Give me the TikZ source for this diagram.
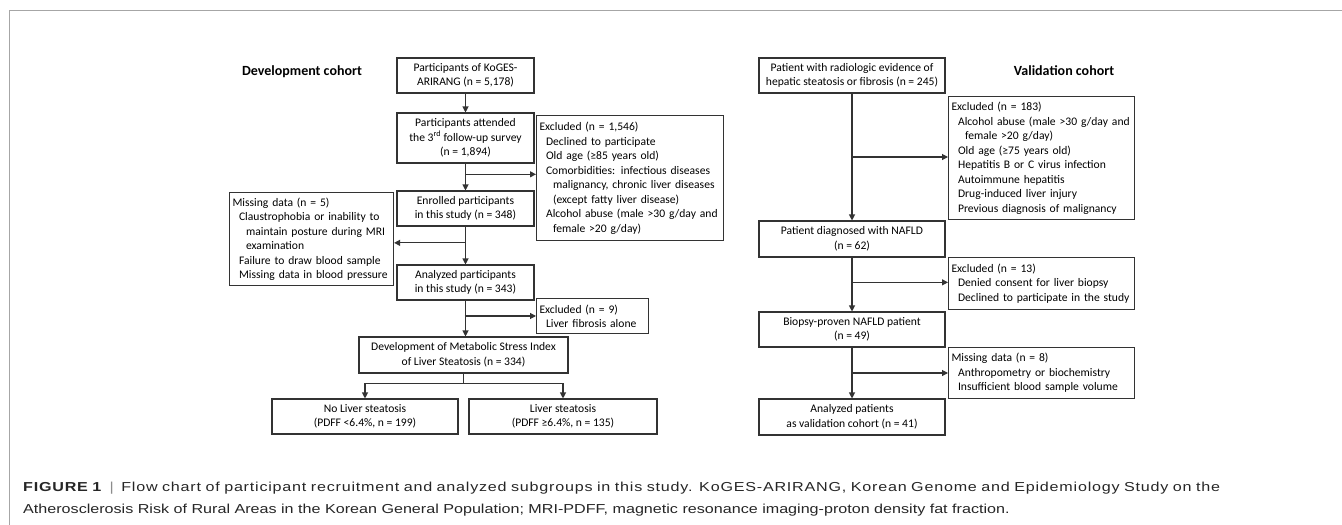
\documentclass[tikz,border=0pt]{standalone}
\usepackage{fontspec}
\setmainfont{Carlito}
\newfontfamily\capfont[FakeStretch=1.24]{Liberation Sans}
\usetikzlibrary{arrows.meta, calc}
\usepackage{xcolor}

% indented lines inside the exclusion boxes
\newcommand{\ia}[1]{\hspace*{6.5pt}\mbox{#1}}
\newcommand{\ib}[1]{\hspace*{13.5pt}\mbox{#1}}

\begin{document}
\begin{tikzpicture}[x=1pt, y=-1pt,
    box/.style={draw=black!80, line width=1.1pt, align=center, inner sep=0pt, font=\fontsize{11.6}{14.5}\selectfont},
    lbox/.style={box, align=left, anchor=north west, inner xsep=3pt},
    head/.style={font=\bfseries\fontsize{14}{16}\selectfont},
    arr/.style={-{Triangle[length=6pt, width=6pt]}, line width=1.1pt, black!80},
    ln/.style={line width=1.1pt, black!80},
    frame/.style={line width=1.4pt, black!35}]

        \useasboundingbox (0,0) rectangle (1342,525);

        % Draw the figure frame
        \draw[frame] (9.5,525) -- (9.5,10.5) -- (1342,10.5);

        % Define boxes of the development cohort
        \node[head] (devhead) at (302,72) {Development cohort};
        \node[box, minimum width=137pt, minimum height=35pt] (dev1) at (465.5,75.5) {Participants of KoGES-\\ARIRANG (n = 5,178)};
        \node[box, minimum width=137pt, minimum height=50pt] (dev2) at (465.5,138) {Participants attended\\the 3\textsuperscript{rd} follow-up survey\\(n = 1,894)};
        \node[box, minimum width=137pt, minimum height=35pt] (dev3) at (465.5,208.5) {Enrolled participants\\in this study (n = 348)};
        \node[box, minimum width=137pt, minimum height=35pt] (dev4) at (465.5,282.5) {Analyzed participants\\in this study (n = 343)};
        \node[box, minimum width=209pt, minimum height=36pt] (dev5) at (463.5,355) {Development of Metabolic Stress Index\\of Liver Steatosis (n = 334)};
        \node[box, minimum width=186pt, minimum height=35pt] (nost) at (365,416.5) {No Liver steatosis\\(PDFF <6.4\%, n = 199)};
        \node[box, minimum width=188pt, minimum height=35pt] (st) at (563,416.5) {Liver steatosis\\(PDFF ≥6.4\%, n = 135)};

        % Define exclusion boxes of the development cohort
        \node[lbox, text width=181pt, minimum height=125pt] (exc1) at (536,115) {Excluded (n = 1,546)\\\ia{Declined to participate}\\\ia{Old age (≥85 years old)}\\\ia{Comorbidities: infectious diseases}\\\ib{malignancy, chronic liver diseases}\\\ib{(except fatty liver disease)}\\\ia{Alcohol abuse (male >30 g/day and}\\\ib{female >20 g/day)}};
        \node[lbox, text width=158pt, minimum height=93pt] (miss1) at (229,192) {Missing data (n = 5)\\\ia{Claustrophobia or inability to}\\\ib{maintain posture during MRI}\\\ib{examination}\\\ia{Failure to draw blood sample}\\\ia{Missing data in blood pressure}};
        \node[lbox, text width=106pt, minimum height=35pt] (exc2) at (536,298) {Excluded (n = 9)\\\ia{Liver fibrosis alone}};

        % Define boxes of the validation cohort
        \node[head] (valhead) at (1064,71) {Validation cohort};
        \node[box, minimum width=186pt, minimum height=35pt] (val1) at (852,75.5) {Patient with radiologic evidence of\\hepatic steatosis or fibrosis (n = 245)};
        \node[box, minimum width=186pt, minimum height=36pt] (val2) at (852,239) {Patient diagnosed with NAFLD\\(n = 62)};
        \node[box, minimum width=186pt, minimum height=35pt] (val3) at (852,329.5) {Biopsy-proven NAFLD patient\\(n = 49)};
        \node[box, minimum width=186pt, minimum height=36pt] (val4) at (852,417) {Analyzed patients\\as validation cohort (n = 41)};

        % Define exclusion boxes of the validation cohort
        \node[lbox, text width=180pt, minimum height=123pt] (exc3) at (948,96) {Excluded (n = 183)\\\ia{Alcohol abuse (male >30 g/day and}\\\ib{female >20 g/day)}\\\ia{Old age (≥75 years old)}\\\ia{Hepatitis B or C virus infection}\\\ia{Autoimmune hepatitis}\\\ia{Drug-induced liver injury}\\\ia{Previous diagnosis of malignancy}};
        \node[lbox, text width=180pt, minimum height=52pt] (exc4) at (948,257) {Excluded (n = 13)\\\ia{Denied consent for liver biopsy}\\\ia{Declined to participate in the study}};
        \node[lbox, text width=180pt, minimum height=51pt] (miss2) at (948,347) {Missing data (n = 8)\\\ia{Anthropometry or biochemistry}\\\ia{Insufficient blood sample volume}};

        % Define branch points
        \coordinate (b1) at ($(dev2.south)!0.4!(dev3.north)$);
        \coordinate (b2) at ($(dev3.south)!0.43!(dev4.north)$);
        \coordinate (b3) at ($(dev4.south)!0.43!(dev5.north)$);
        \coordinate (sp) at ($(dev5.south)+(0,10)$);
        \coordinate (b4) at ($(val1.south)!0.5!(val2.north)$);
        \coordinate (b5) at ($(val2.south)!0.46!(val3.north)$);
        \coordinate (b6) at ($(val3.south)!0.5!(val4.north)$);

        % Draw arrows of the development cohort
        \draw[arr] (dev1.south) -- (dev2.north);
        \draw[arr] (dev2.south) -- (dev3.north);
        \draw[arr] (dev3.south) -- (dev4.north);
        \draw[arr] (dev4.south) -- (dev4.south |- dev5.north);
        \draw[arr] (b1) -- (b1 -| exc1.west);
        \draw[arr] (b2) -- (b2 -| miss1.east);
        \draw[arr] (b3) -- (b3 -| exc2.west);
        \draw[ln] (dev5.south) -- (sp);
        \draw[arr] (sp) -| (nost.north);
        \draw[arr] (sp) -| (st.north);

        % Draw arrows of the validation cohort
        \draw[arr] (val1.south) -- (val2.north);
        \draw[arr] (val2.south) -- (val3.north);
        \draw[arr] (val3.south) -- (val4.north);
        \draw[arr] (b4) -- (b4 -| exc3.west);
        \draw[arr] (b5) -- (b5 -| exc4.west);
        \draw[arr] (b6) -- (b6 -| miss2.west);

        % Caption
        \node[anchor=north west, align=justify, text width=1197pt, inner sep=0pt, text=black!85, font=\capfont\fontsize{13}{22}\selectfont] (cap) at (23,482) {{\addfontfeatures{LetterSpace=6}\textbf{FIGURE 1}\hspace{3pt} {\color{black!45}|}\hspace{3pt} Flow chart of participant recruitment and analyzed subgroups in this study. KoGES-ARIRANG, Korean Genome and Epidemiology Study on the}\linebreak Atherosclerosis Risk of Rural Areas in the Korean General Population; MRI-PDFF, magnetic resonance imaging-proton density fat fraction.};
    \end{tikzpicture}
\end{document}
